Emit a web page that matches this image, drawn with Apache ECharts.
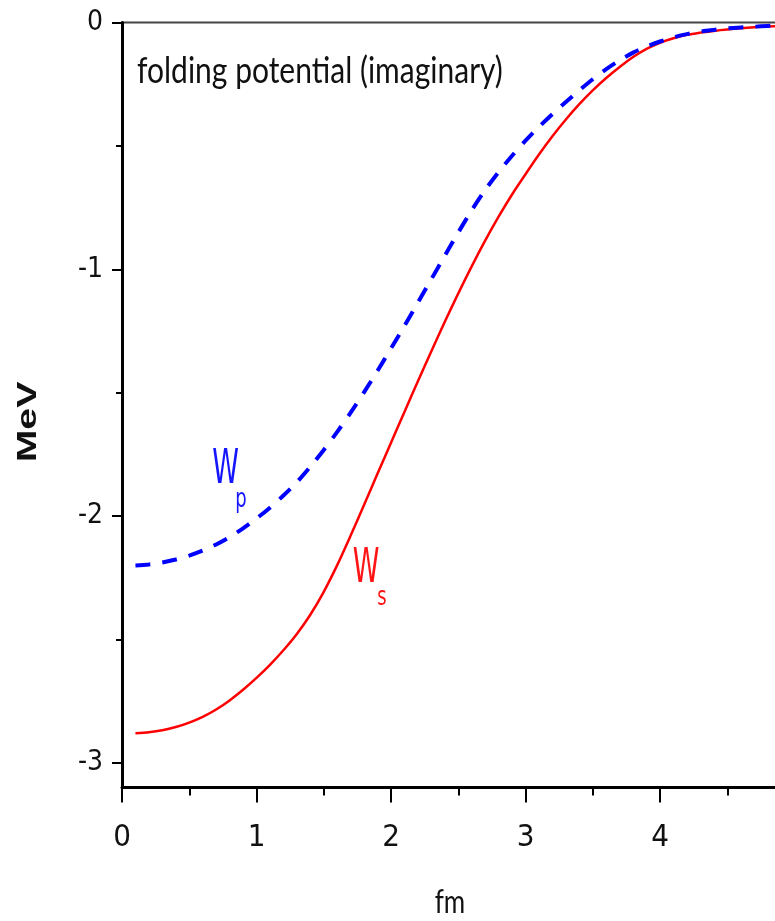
<!DOCTYPE html>
<html>
<head>
<meta charset="utf-8">
<title>folding potential (imaginary)</title>
<script src="https://cdn.jsdelivr.net/npm/echarts@6/dist/echarts.min.js"></script>
<style>
  html, body { margin: 0; padding: 0; background: #fff; }
  #chart { width: 775px; height: 921px; }
</style>
</head>
<body>
<div id="chart"></div>
<script>
// r (fm)
const radius = [0.1, 0.2, 0.3, 0.4, 0.5, 0.6, 0.7, 0.8, 0.9, 1.0,
  1.1, 1.2, 1.3, 1.4, 1.5, 1.6, 1.7, 1.8, 1.9, 2.0,
  2.1, 2.2, 2.3, 2.4, 2.5, 2.6, 2.7, 2.8, 2.9, 3.0,
  3.1, 3.2, 3.3, 3.4, 3.5, 3.6, 3.7, 3.8, 3.9, 4.0,
  4.1, 4.2, 4.3, 4.4, 4.5, 4.6, 4.7, 4.8, 4.9, 5.0]

// W_s (MeV), red solid
const wsValues = [-2.880, -2.876, -2.868, -2.855, -2.837, -2.814, -2.784, -2.747, -2.704, -2.656,
  -2.603, -2.544, -2.478, -2.400, -2.307, -2.199, -2.079, -1.954, -1.828, -1.703,
  -1.578, -1.454, -1.332, -1.213, -1.098, -0.988, -0.884, -0.787, -0.697, -0.615,
  -0.535, -0.461, -0.393, -0.331, -0.275, -0.225, -0.180, -0.140, -0.107, -0.082,
  -0.064, -0.050, -0.041, -0.034, -0.028, -0.023, -0.019, -0.016, -0.014, -0.012]

// W_p (MeV), blue dashed
const wpValues = [-2.200, -2.196, -2.188, -2.176, -2.160, -2.140, -2.115, -2.085, -2.050, -2.010,
  -1.966, -1.917, -1.863, -1.800, -1.732, -1.659, -1.581, -1.498, -1.411, -1.321,
  -1.229, -1.135, -1.040, -0.945, -0.851, -0.761, -0.679, -0.606, -0.540, -0.479,
  -0.423, -0.371, -0.322, -0.275, -0.230, -0.189, -0.153, -0.122, -0.097, -0.077,
  -0.060, -0.047, -0.037, -0.030, -0.024, -0.020, -0.017, -0.014, -0.012, -0.010]

const yMajorTicks = [-3, -2, -1, 0]
const yMinorTicks = [-2.5, -1.5, -0.5]

const narrowFont = '"Liberation Sans Narrow", "Arial Narrow", "DejaVu Sans Condensed", sans-serif'
const humanFont = 'Lato, "Open Sans", sans-serif'

const myChart = echarts.init(document.getElementById('chart'))

const zip = (xs, ys) => xs.map((x, i) => [x, ys[i]])

const options = {
  animation: false,
  backgroundColor: '#fff',
  grid: {
    left: 122,
    top: 22.5,
    width: 672.5,
    height: 765,
    containLabel: false,
    outerBoundsMode: 'none',
    show: true,
    borderColor: '#444',
    borderWidth: 2
  },
  xAxis: {
    type: 'value',
    min: 0,
    max: 5,
    interval: 1,
    axisLine: { onZero: false, lineStyle: { color: '#000', width: 3 } },
    axisTick: { show: true, length: 15, lineStyle: { color: '#000', width: 2 } },
    minorTick: { show: true, splitNumber: 2, length: 8, lineStyle: { color: '#000', width: 2 } },
    splitLine: { show: false },
    axisLabel: {
      margin: 35,
      fontFamily: narrowFont,
      fontSize: 31,
      color: '#111'
    }
  },
  yAxis: [
    {
      type: 'value',
      min: -3.1,
      max: 0,
      axisLine: { onZero: false, lineStyle: { color: '#000', width: 3 } },
      axisTick: { customValues: yMajorTicks, length: 10, lineStyle: { color: '#000', width: 2 } },
      splitLine: { show: false },
      axisLabel: {
        customValues: yMajorTicks,
        margin: 19,
        fontFamily: narrowFont,
        fontSize: 28,
        color: '#111'
      }
    },
    {
      type: 'value',
      min: -3.1,
      max: 0,
      position: 'left',
      axisLine: { show: false },
      axisTick: { show: true, customValues: yMinorTicks, length: 6, lineStyle: { color: '#000', width: 2 } },
      axisLabel: { show: false },
      splitLine: { show: false }
    }
  ],
  series: [
    {
      name: 'W_s',
      type: 'line',
      data: zip(radius, wsValues),
      smooth: 0.3,
      showSymbol: false,
      lineStyle: { color: '#ff0000', width: 2.5 },
      z: 3
    },
    {
      name: 'W_p',
      type: 'line',
      data: zip(radius, wpValues),
      smooth: 0.3,
      showSymbol: false,
      lineStyle: { color: '#0000ff', width: 4, type: [15, 12] },
      z: 4
    }
  ],
  graphic: [
    {
      type: 'text', x: 137, y: 71, scaleY: 1.22,
      style: { text: 'folding potential (imaginary)', fontFamily: humanFont, fontSize: 30, fill: '#111', align: 'left', verticalAlign: 'middle' }
    },
    {
      type: 'text', x: 225.5, y: 471, scaleY: 1.58,
      style: { text: 'W', fontFamily: narrowFont, fontSize: 30, fill: '#1515ff', align: 'center', verticalAlign: 'middle' }
    },
    {
      type: 'text', x: 241, y: 500, scaleY: 1.3,
      style: { text: 'p', fontFamily: narrowFont, fontSize: 20, fill: '#1515ff', align: 'center', verticalAlign: 'middle' }
    },
    {
      type: 'text', x: 366, y: 570, scaleY: 1.58,
      style: { text: 'W', fontFamily: narrowFont, fontSize: 30, fill: '#ff1515', align: 'center', verticalAlign: 'middle' }
    },
    {
      type: 'text', x: 382, y: 598, scaleY: 1.3,
      style: { text: 's', fontFamily: narrowFont, fontSize: 20, fill: '#ff1515', align: 'center', verticalAlign: 'middle' }
    },
    {
      type: 'text', x: 28, y: 422, rotation: Math.PI / 2, scaleX: 1.4,
      style: { text: 'MeV', fontFamily: '"Liberation Sans", Arial, sans-serif', fontWeight: 'bold', fontSize: 28, fill: '#111', align: 'center', verticalAlign: 'middle' }
    },
    {
      type: 'text', x: 450, y: 903, scaleY: 1.23,
      style: { text: 'fm', fontFamily: humanFont, fontSize: 26, fill: '#111', align: 'center', verticalAlign: 'middle' }
    }
  ]
}

myChart.setOption(options)
window.addEventListener('resize', function() {
  myChart.resize()
})
</script>
</body>
</html>
